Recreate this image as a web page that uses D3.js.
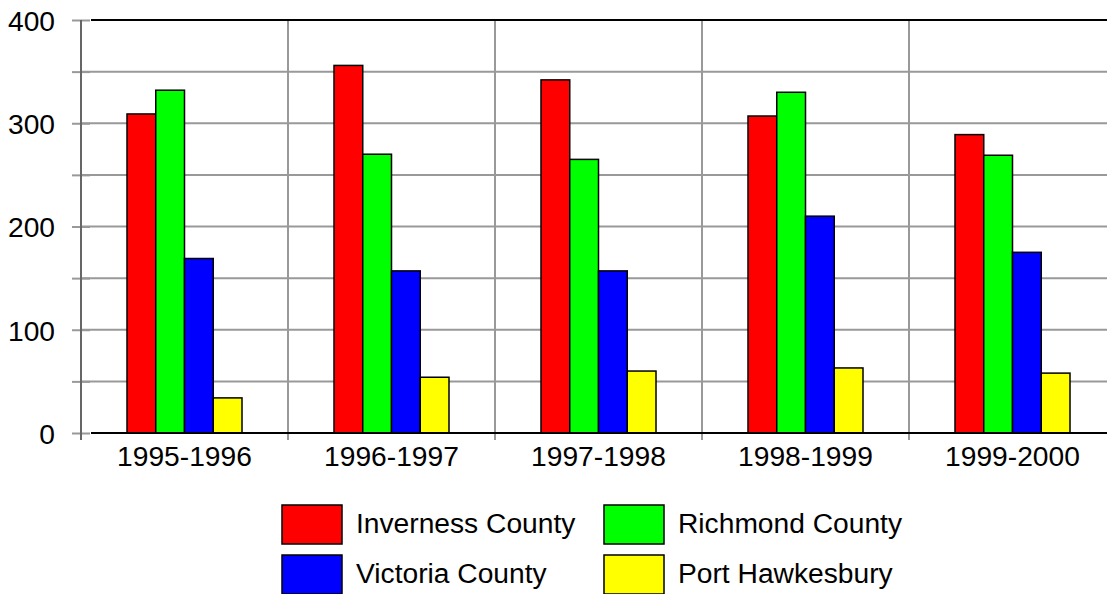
<!DOCTYPE html>
<html>
<head>
<meta charset="utf-8">
<script src="https://cdn.jsdelivr.net/npm/d3@7"></script>
<style>
  html, body { margin: 0; padding: 0; background: #fff; }
  svg { display: block; font-family: "Liberation Sans", Arial, sans-serif; }
</style>
</head>
<body>
<svg id="chart" width="1107" height="594"></svg>
<script>
// Fiscal years shown on the x axis
const periods = ["1995-1996", "1996-1997", "1997-1998", "1998-1999", "1999-2000"];

// One value per fiscal year for each area
const inverness = [309, 356, 342, 307, 289];
const richmond = [332, 270, 265, 330, 269];
const victoria = [169, 157, 157, 210, 175];
const portHawkesbury = [34, 54, 60, 63, 58];

const seriesNames = ["Inverness County", "Richmond County", "Victoria County", "Port Hawkesbury"];
const seriesColors = ["#ff0000", "#00ff00", "#0000ff", "#ffff00"];
const yTicks = [0, 100, 200, 300, 400];
const yGrid = [50, 100, 150, 200, 250, 300, 350];

const seriesValues = [inverness, richmond, victoria, portHawkesbury];
const rows = periods.map((p, i) => ({
  period: p,
  values: seriesNames.map((s, k) => ({ series: s, value: seriesValues[k][i], color: seriesColors[k] }))
}));

const svg = d3.select("#chart");
const fontSize = 28.2;

const plotLeft = 81, plotTop = 20, plotBottom = 433, step = 207;
const x = d3.scaleBand().domain(periods).range([plotLeft, plotLeft + step * periods.length]).padding(0);
const xs = d3.scaleBand().domain(seriesNames).range([0, x.bandwidth()]).paddingInner(0).paddingOuter(1.6);
const y = d3.scaleLinear().domain([0, 400]).range([plotBottom, plotTop]);

const plotRight = x.range()[1];

// horizontal grid lines
svg.append("g").selectAll("line").data(yGrid).join("line")
  .attr("x1", plotLeft).attr("x2", plotRight)
  .attr("y1", d => y(d)).attr("y2", d => y(d))
  .attr("stroke", "#999").attr("stroke-width", 2);

// vertical category separators, running a little below the baseline
svg.append("g").selectAll("line").data(periods.slice(1)).join("line")
  .attr("x1", d => x(d)).attr("x2", d => x(d))
  .attr("y1", plotTop).attr("y2", plotBottom + 7)
  .attr("stroke", "#999").attr("stroke-width", 2);

// frame top
svg.append("line").attr("x1", plotLeft + 10).attr("x2", plotRight).attr("y1", y(400)).attr("y2", y(400))
  .attr("stroke", "#000").attr("stroke-width", 2);

// bars
const groups = svg.append("g").selectAll("g").data(rows).join("g")
  .attr("transform", d => `translate(${x(d.period)},0)`);
groups.selectAll("rect").data(d => d.values).join("rect")
  .attr("x", d => xs(d.series))
  .attr("y", d => y(d.value))
  .attr("width", xs.bandwidth())
  .attr("height", d => y(0) - y(d.value))
  .attr("fill", d => d.color)
  .attr("stroke", "#000").attr("stroke-width", 1.5);

// baseline
svg.append("line").attr("x1", plotLeft + 10).attr("x2", plotRight).attr("y1", y(0)).attr("y2", y(0))
  .attr("stroke", "#000").attr("stroke-width", 2);

// y axis
const yAxis = d3.axisLeft(y).tickValues(yTicks.concat(yGrid.filter(v => !yTicks.includes(v))))
  .tickSize(0).tickFormat(d => yTicks.includes(d) ? d : "");
const ya = svg.append("g").attr("transform", `translate(${plotLeft},0)`).call(yAxis);
ya.select(".domain").remove();
ya.selectAll(".tick text")
  .attr("x", -26).attr("dy", "0.37em")
  .attr("font-size", fontSize).attr("fill", "#000")
  .attr("font-family", "'Liberation Sans', Arial, sans-serif");
ya.selectAll(".tick").append("line")
  .attr("x1", -9).attr("x2", 9).attr("stroke", "#999").attr("stroke-width", 2);
svg.append("line").attr("x1", plotLeft).attr("x2", plotLeft).attr("y1", plotTop).attr("y2", plotBottom + 7)
  .attr("stroke", "#666").attr("stroke-width", 2);

// x axis labels
const xAxis = d3.axisBottom(x).tickSize(0).tickPadding(0);
const xa = svg.append("g").attr("transform", `translate(0,${plotBottom})`).call(xAxis);
xa.select(".domain").remove();
xa.selectAll(".tick text")
  .attr("y", 33).attr("dy", 0)
  .attr("font-size", fontSize).attr("fill", "#000")
  .attr("font-family", "'Liberation Sans', Arial, sans-serif");

// legend
const legendPos = [[282, 505], [604, 505], [282, 555], [604, 555]];
const legend = svg.append("g").selectAll("g").data(seriesNames).join("g")
  .attr("transform", (d, i) => `translate(${legendPos[i][0]},${legendPos[i][1]})`);
legend.append("rect")
  .attr("width", 60).attr("height", 39)
  .attr("fill", (d, i) => seriesColors[i])
  .attr("stroke", "#000").attr("stroke-width", 1.5);
legend.append("text")
  .attr("x", 74).attr("y", 28)
  .attr("font-size", fontSize).attr("fill", "#000")
  .text(d => d);
</script>
</body>
</html>
